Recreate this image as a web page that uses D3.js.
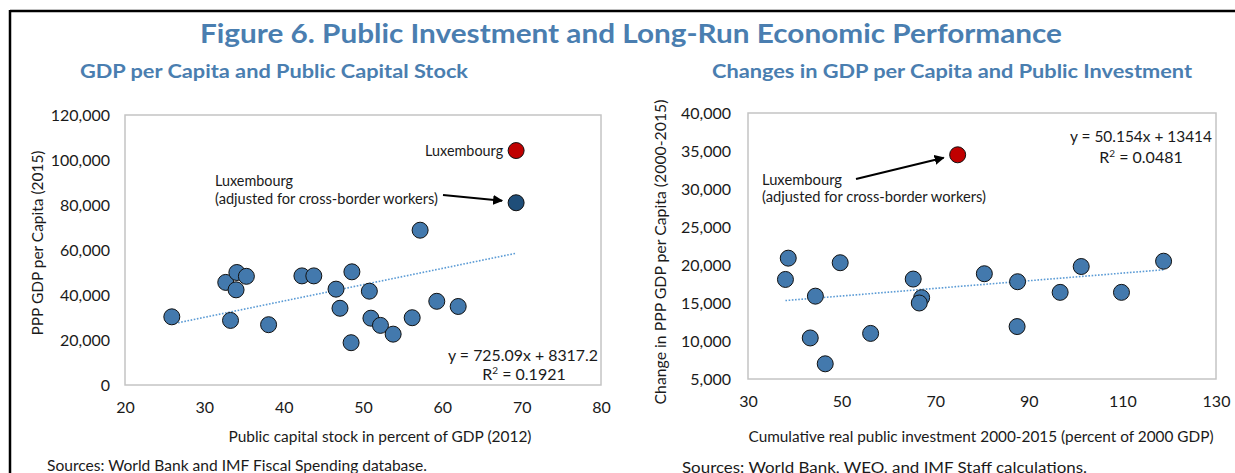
<!DOCTYPE html>
<html><head><meta charset="utf-8">
<script src="https://cdn.jsdelivr.net/npm/d3@7"></script>
<style>
body{margin:0;background:#fff;}
text{font-family:"Lato","Open Sans",sans-serif;}
</style></head>
<body><svg id="c" width="1235" height="473"></svg>
<script>
// ---- data ----
const leftX = [25.9,32.7,34.1,35.3,34.0,33.3,38.1,42.3,43.8,48.6,46.6,50.8,47.1,51.0,52.2,48.5,53.8,56.2,57.2,59.3,62.0];
const leftY = [30300,45600,50000,48300,42300,28700,26800,48500,48500,50300,42600,41700,34100,29700,26500,18800,22600,29900,68800,37200,34900];
const leftLuxAdj = [69.3,81000];
const leftLux = [69.3,104200];
const leftXTicks = [20,30,40,50,60,70,80];
const leftYTicks = [0,20000,40000,60000,80000,100000,120000];
const leftFit = {slope:725.09, intercept:8317.2, r2:"0.1921", x0:25.9, x1:69.3};

const rightX = [38.6,38.0,49.7,44.4,65.3,67.1,66.6,80.5,87.6,101.2,118.8,96.7,109.8,87.5,43.3,56.2,46.5];
const rightY = [20900,18100,20300,15900,18150,15700,15000,18850,17800,19800,20500,16400,16400,11900,10400,11000,7000];
const rightLux = [74.8,34500];
const rightXTicks = [30,50,70,90,110,130];
const rightYTicks = [5000,10000,15000,20000,25000,30000,35000,40000];
const rightFit = {slope:50.154, intercept:13414, r2:"0.0481", x0:38.0, x1:118.8};

const svg = d3.select("#c");
const blue = "#4a7eb0";
const ink = "#1a1a1a";
const fmt = d3.format(",");

// frame
svg.append("line").attr("x1",10).attr("x2",1235).attr("y1",11).attr("y2",11).attr("stroke","#000").attr("stroke-width",2.5);
svg.append("line").attr("x1",10).attr("x2",10).attr("y1",10).attr("y2",473).attr("stroke","#000").attr("stroke-width",2.5);

function txt(x,y,s,o){
  o=o||{};
  const e=svg.append("text").attr("x",x).attr("y",y).attr("text-anchor",o.anchor||"start")
    .attr("font-size",o.size||14.5).attr("fill",o.fill||ink);
  if(o.bold) e.attr("font-weight","bold");
  if(o.len) e.attr("textLength",o.len).attr("lengthAdjust","spacingAndGlyphs");
  if(o.rot) e.attr("transform",`rotate(-90 ${x} ${y})`);
  e.text(s); return e;
}

txt(631,43,"Figure 6. Public Investment and Long-Run Economic Performance",{anchor:"middle",size:27,bold:true,fill:blue,len:862});
txt(80,78,"GDP per Capita and Public Capital Stock",{size:19,bold:true,fill:blue,len:388});
txt(712,78,"Changes in GDP per Capita and Public Investment",{size:19,bold:true,fill:blue,len:480});

svg.append("defs").append("marker").attr("id","arr").attr("viewBox","0 0 10 10").attr("refX",9).attr("refY",5)
  .attr("markerWidth",5).attr("markerHeight",5).attr("orient","auto")
  .append("path").attr("d","M0,0L10,5L0,10z").attr("fill","#000");

function panel(o){
  const x = d3.scaleLinear().domain(o.xd).range([o.l,o.r]);
  const y = d3.scaleLinear().domain(o.yd).range([o.b,o.t]);
  const g = svg.append("g");
  g.append("rect").attr("x",o.l).attr("y",o.t).attr("width",o.r-o.l).attr("height",o.b-o.t)
    .attr("fill","none").attr("stroke","#c4c4c4").attr("stroke-width",1.5);
  const ya = g.append("g").attr("transform",`translate(${o.l},0)`)
    .call(d3.axisLeft(y).tickValues(o.yt).tickFormat(fmt).tickSize(0).tickPadding(o.ypad));
  const xa = g.append("g").attr("transform",`translate(0,${o.b})`)
    .call(d3.axisBottom(x).tickValues(o.xt).tickSize(0).tickPadding(o.xpad));
  [ya,xa].forEach(a=>{a.select(".domain").remove();
    a.selectAll("text").attr("font-family","Lato, sans-serif").attr("font-size",16).attr("fill",ink);});
  // trend
  g.append("line").attr("x1",x(o.fit.x0)).attr("x2",x(o.fit.x1))
    .attr("y1",y(o.fit.slope*o.fit.x0+o.fit.intercept)).attr("y2",y(o.fit.slope*o.fit.x1+o.fit.intercept))
    .attr("stroke","#5b9bd5").attr("stroke-width",1.6).attr("stroke-dasharray","1.6,1.6");
  const pts = o.xs.map((v,i)=>[v,o.ys[i]]);
  g.selectAll("circle.p").data(pts).join("circle").attr("class","p")
    .attr("cx",d=>x(d[0])).attr("cy",d=>y(d[1])).attr("r",8)
    .attr("fill","#4379ad").attr("stroke","#111").attr("stroke-width",1);
  o.extra.forEach(e=>{
    g.append("circle").attr("cx",x(e.p[0])).attr("cy",y(e.p[1])).attr("r",8)
      .attr("fill",e.c).attr("stroke","#111").attr("stroke-width",1);
  });
  return {x,y,g};
}

const L = panel({l:125,r:601,t:115,b:385,xd:[20,80],yd:[0,120000],xt:leftXTicks,yt:leftYTicks,ypad:15,xpad:17,
  xs:leftX,ys:leftY,fit:leftFit,extra:[{p:leftLuxAdj,c:"#1f4e79"},{p:leftLux,c:"#c00000"}]});
const R = panel({l:748,r:1216,t:113,b:379,xd:[30,130],yd:[5000,40000],xt:rightXTicks,yt:rightYTicks,ypad:17,xpad:17,
  xs:rightX,ys:rightY,fit:rightFit,extra:[{p:rightLux,c:"#c00000"}]});

// axis titles
txt(380,442,"Public capital stock in percent of GDP (2012)",{anchor:"middle",size:15.5,len:303});
txt(981,442,"Cumulative real public investment 2000-2015 (percent of 2000 GDP)",{anchor:"middle",size:15.5,len:465});
txt(43,243,"PPP GDP per Capita (2015)",{anchor:"middle",size:15.5,len:185,rot:true});
txt(666,252,"Change in PPP GDP per Capita (2000-2015)",{anchor:"middle",size:15.5,len:305,rot:true});

// left annotations
txt(L.x(leftLux[0])-13,L.y(leftLux[1])+5,"Luxembourg",{anchor:"end",len:78});
txt(215,186,"Luxembourg",{len:78});
txt(215,204,"(adjusted for cross-border workers)",{len:223});
svg.append("line").attr("x1",443).attr("y1",195).attr("x2",L.x(leftLuxAdj[0])-14).attr("y2",L.y(leftLuxAdj[1])-2)
  .attr("stroke","#000").attr("stroke-width",2).attr("marker-end","url(#arr)");
txt(598,361,"y = 725.09x + 8317.2",{anchor:"end",size:16,len:150});
svg.append("text").attr("x",524).attr("y",380).attr("text-anchor","middle").attr("font-size",16).attr("fill",ink)
  .html('R<tspan dy="-6" font-size="10">2</tspan><tspan dy="6"> = 0.1921</tspan>');
// right annotations
txt(1212,142,"y = 50.154x + 13414",{anchor:"end",size:16,len:142});
svg.append("text").attr("x",1141).attr("y",163).attr("text-anchor","middle").attr("font-size",16).attr("fill",ink)
  .html('R<tspan dy="-6" font-size="10">2</tspan><tspan dy="6"> = 0.0481</tspan>');
txt(762,185,"Luxembourg",{len:80});
txt(762,202,"(adjusted for cross-border workers)",{len:224});
svg.append("line").attr("x1",856).attr("y1",179).attr("x2",R.x(rightLux[0])-14).attr("y2",R.y(rightLux[1])+3)
  .attr("stroke","#000").attr("stroke-width",2).attr("marker-end","url(#arr)");
// sources
txt(47,471,"Sources: World Bank and IMF Fiscal Spending database.",{size:15,len:380});
txt(682,473,"Sources: World Bank, WEO, and IMF Staff calculations.",{size:15.5,len:405});
</script></body></html>
